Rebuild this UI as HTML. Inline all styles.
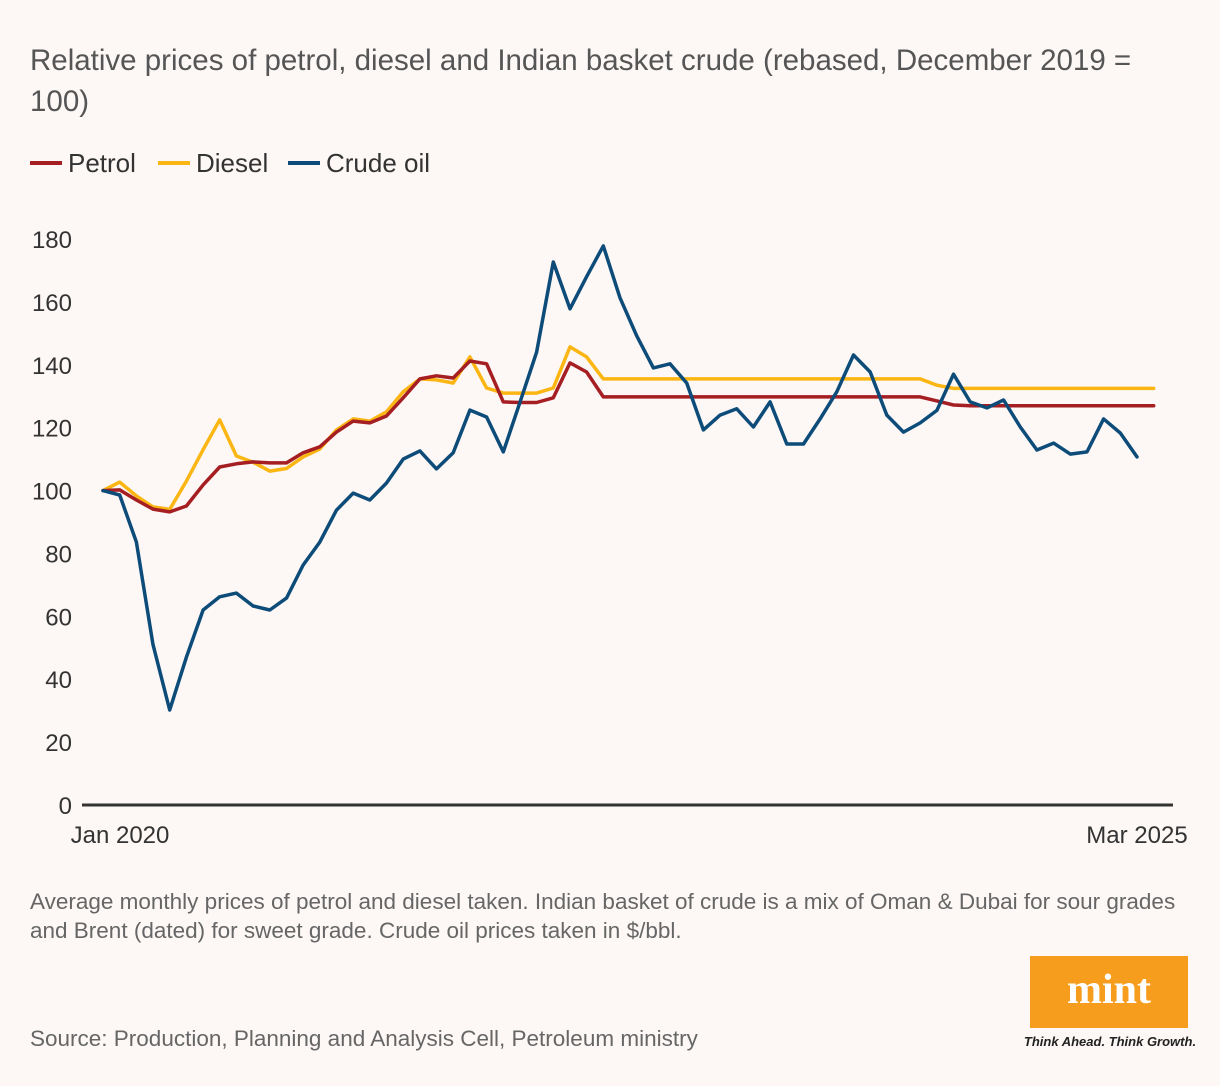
<!DOCTYPE html>
<html><head><meta charset="utf-8"><style>
body{margin:0;background:#fdf7f6;font-family:"Liberation Sans",sans-serif;}
.wrap{position:relative;width:1220px;height:1086px;overflow:hidden;background:#fdf7f6;}
</style></head><body>
<div class="wrap">
<svg id="chart" width="1220" height="1086">
<text x="30" y="70" font-size="29.5" fill="#555">Relative prices of petrol, diesel and Indian basket crude (rebased, December 2019 =</text>
<text x="30" y="111" font-size="29.5" fill="#555">100)</text>
<g>
<line x1="30" y1="163" x2="62" y2="163" stroke="#a51e22" stroke-width="4"/>
<text x="68" y="172" font-size="26" fill="#333">Petrol</text>
<line x1="158" y1="163" x2="190" y2="163" stroke="#fbb614" stroke-width="4"/>
<text x="196" y="172" font-size="26" fill="#333">Diesel</text>
<line x1="288" y1="163" x2="320" y2="163" stroke="#0d4c79" stroke-width="4"/>
<text x="326" y="172" font-size="26" fill="#333">Crude oil</text>
</g>
<g id="yaxis"></g>
<g id="series"></g>
<line x1="82" y1="805" x2="1173" y2="805" stroke="#333" stroke-width="3"/>
<text x="120" y="843" font-size="24" fill="#333" text-anchor="middle">Jan 2020</text>
<text x="1137" y="843" font-size="24" fill="#333" text-anchor="middle">Mar 2025</text>
<text x="30" y="909" font-size="22.5" fill="#666">Average monthly prices of petrol and diesel taken. Indian basket of crude is a mix of Oman &amp; Dubai for sour grades</text>
<text x="30" y="938" font-size="22.5" fill="#666">and Brent (dated) for sweet grade. Crude oil prices taken in $/bbl.</text>
<text x="30" y="1046" font-size="22.5" fill="#666">Source: Production, Planning and Analysis Cell, Petroleum ministry</text>
<g>
<rect x="1030" y="956" width="158" height="72" fill="#f79d1e"/>
<text x="1109" y="1003" font-size="42" font-weight="bold" fill="#fff" text-anchor="middle" font-family="Liberation Serif,serif">mint</text>
<text x="1110" y="1046" font-size="13" font-style="italic" font-weight="bold" fill="#222" text-anchor="middle">Think Ahead. Think Growth.</text>
</g>
</svg>
</div>
<script>
const yTicks=[0,20,40,60,80,100,120,140,160,180];
const crude=[100,98.6,83.6,51,30.2,47,62,66.2,67.4,63.3,62,65.8,76.3,83.6,93.8,99.2,97,102.4,110,112.6,106.9,112,125.6,123.4,112.3,128,144,172.7,157.8,168,177.8,161.3,149.2,139,140.3,134.2,119.3,124,126,120.2,128.2,114.8,114.8,122.8,131.4,143.1,137.7,124,118.6,121.5,125.5,137,128.2,126.3,128.8,120.2,112.9,115.1,111.6,112.3,122.8,118.3,110.7];
const petrol=[100,100.2,97,94.1,93.2,95.1,101.8,107.5,108.5,109.1,108.8,108.8,112,113.9,118.6,122.1,121.5,123.7,129.5,135.5,136.5,135.8,141.2,140.3,128.2,128,128,129.5,140.6,137.7,129.8,129.8,129.8,129.8,129.8,129.8,129.8,129.8,129.8,129.8,129.8,129.8,129.8,129.8,129.8,129.8,129.8,129.8,129.8,129.8,128.5,127.2,127,127,127,127,127,127,127,127,127,127,127,127];
const diesel=[100,102.7,98.3,94.8,94,103,113,122.5,111,109,106.2,107,110.7,113.2,119.3,122.8,122.1,125,131.4,135.5,135.2,134.2,142.5,132.6,131,131,131,132.6,145.7,142.5,135.5,135.5,135.5,135.5,135.5,135.5,135.5,135.5,135.5,135.5,135.5,135.5,135.5,135.5,135.5,135.5,135.5,135.5,135.5,135.5,133.5,132.5,132.5,132.5,132.5,132.5,132.5,132.5,132.5,132.5,132.5,132.5,132.5,132.5];
const NS="http://www.w3.org/2000/svg";
function xs(i){return 103+i*(1137-103)/62;}
function ys(v){return 805-v*(805-239)/180;}
const ya=document.getElementById('yaxis');
yTicks.forEach(t=>{
  const tx=document.createElementNS(NS,'text');
  
  
  tx.setAttribute('x',72);tx.setAttribute('y',ys(t)+9);
  tx.setAttribute('text-anchor','end');tx.setAttribute('font-size','24');tx.setAttribute('fill','#333');
  tx.textContent=t;ya.appendChild(tx);
});
const sg=document.getElementById('series');
function draw(arr,color,name){
  const p=document.createElementNS(NS,'polyline');
  
  
  p.setAttribute('points',arr.map((v,i)=>xs(i).toFixed(1)+','+ys(v).toFixed(1)).join(' '));
  p.setAttribute('fill','none');p.setAttribute('stroke',color);p.setAttribute('stroke-width','3.5');
  p.setAttribute('stroke-linejoin','round');p.setAttribute('stroke-linecap','round');
  sg.appendChild(p);
}
draw(diesel,'#fbb614','diesel-line');
draw(petrol,'#a51e22','petrol-line');
draw(crude,'#0d4c79','crude-line');
</script>
</body></html>
